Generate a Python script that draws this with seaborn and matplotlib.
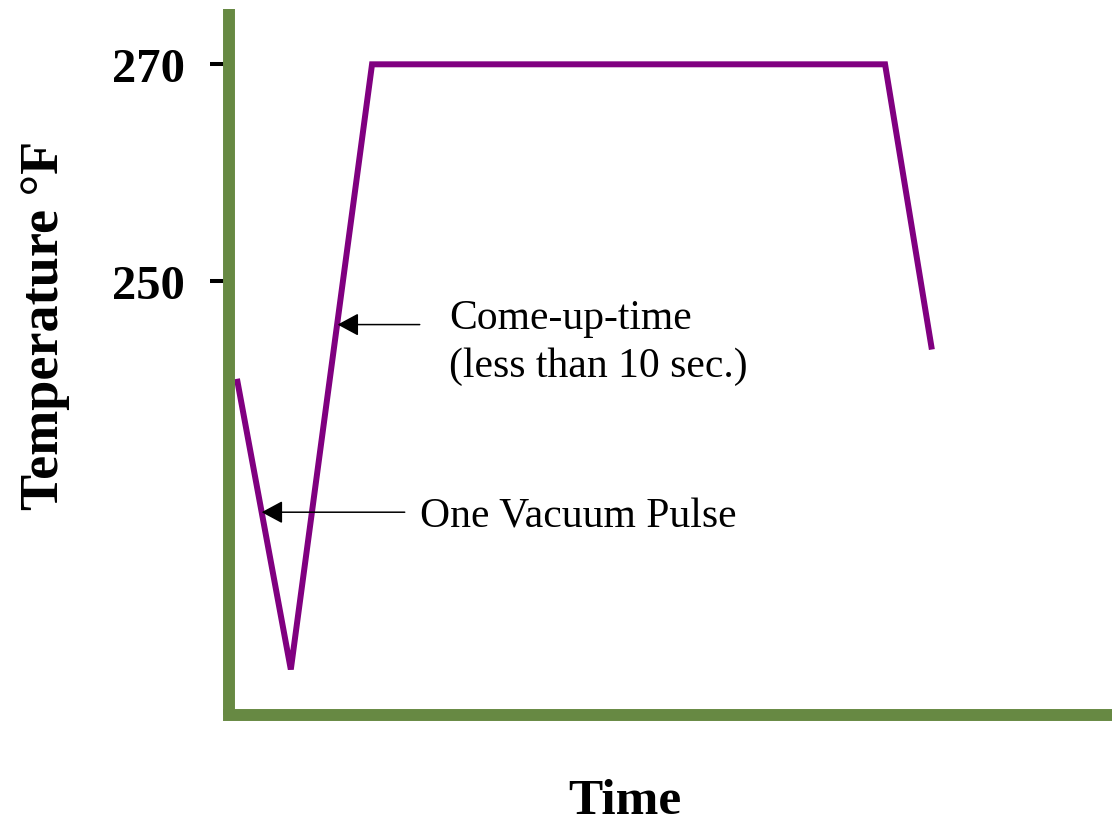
import numpy as np
import pandas as pd
import matplotlib
matplotlib.use("Agg")
import matplotlib.pyplot as plt
import seaborn as sns

# profile (time in arbitrary units, temperature in F)
time = [0.9, 7.0, 16.2, 74.3, 79.6]
temp = [241.0, 214.2, 270.0, 270.0, 243.7]
ytick_vals = [250, 270]
ytick_labels = ["250", "270"]

# annotation anchors (tip on line, tail of arrow, text start)
comeup_tip = (12.3, 246.0)
comeup_tail = (21.6, 246.0)
comeup_text = (24.9, 244.4)
pulse_tip = (3.7, 228.7)
pulse_tail = (19.9, 228.7)
pulse_text = (21.6, 228.3)

sns.set_style("white")
plt.rcParams["font.family"] = ["Liberation Serif", "DejaVu Serif"]
plt.rcParams["text.color"] = "black"
plt.rcParams["ytick.color"] = "black"
plt.rcParams["ytick.labelcolor"] = "black"

df = pd.DataFrame({"time": time, "temp": temp})

fig = plt.figure(figsize=(11.12, 8.28), dpi=100)
ax = fig.add_axes([229 / 1112, 112 / 828, 883 / 1112, 706 / 828])

sns.lineplot(data=df, x="time", y="temp", sort=False, estimator=None,
             color="#800080", linewidth=4.3, ax=ax,
             solid_joinstyle="miter", solid_capstyle="butt")

ax.set_xlim(0, 100)
ax.set_ylim(210.0, 275.1)

green = "#678943"
for side in ["top", "right"]:
    ax.spines[side].set_visible(False)
for side in ["left", "bottom"]:
    ax.spines[side].set_color(green)
    ax.spines[side].set_linewidth(8.6)
ax.spines["bottom"].set_capstyle("projecting")
ax.spines["left"].set_capstyle("butt")

ax.set_xticks([])
ax.set_yticks(ytick_vals)
ax.set_yticklabels(ytick_labels, fontsize=35, fontweight="bold", color="black")
ax.tick_params(axis="y", direction="out", length=13.5, width=2.9,
               color="black", left=True, pad=18)
ax.set_xlabel("")
ax.set_ylabel("")

arrow_kw = dict(arrowstyle="-|>,head_length=0.65,head_width=0.35",
                mutation_scale=20, color="black", lw=1.1,
                shrinkA=0, shrinkB=0)
ax.annotate("", xy=comeup_tip, xytext=comeup_tail, arrowprops=arrow_kw)
ax.annotate("", xy=pulse_tip, xytext=pulse_tail, arrowprops=arrow_kw)

ax.text(comeup_text[0], comeup_text[1], "Come-up-time\n(less than 10 sec.)",
        fontsize=30, ha="left", va="center", linespacing=1.3, color="black")
ax.text(pulse_text[0], pulse_text[1], "One Vacuum Pulse",
        fontsize=30, ha="left", va="center", color="black")

fig.text(45 / 1112, 1 - 325 / 828, "Temperature \u00b0F", rotation=90,
         fontsize=39, fontweight="bold", ha="center", va="center", color="black")
fig.text(625 / 1112, 1 - 802 / 828, "Time", fontsize=37,
         fontweight="bold", ha="center", va="center", color="black")

fig.savefig("out.png", dpi=100)
